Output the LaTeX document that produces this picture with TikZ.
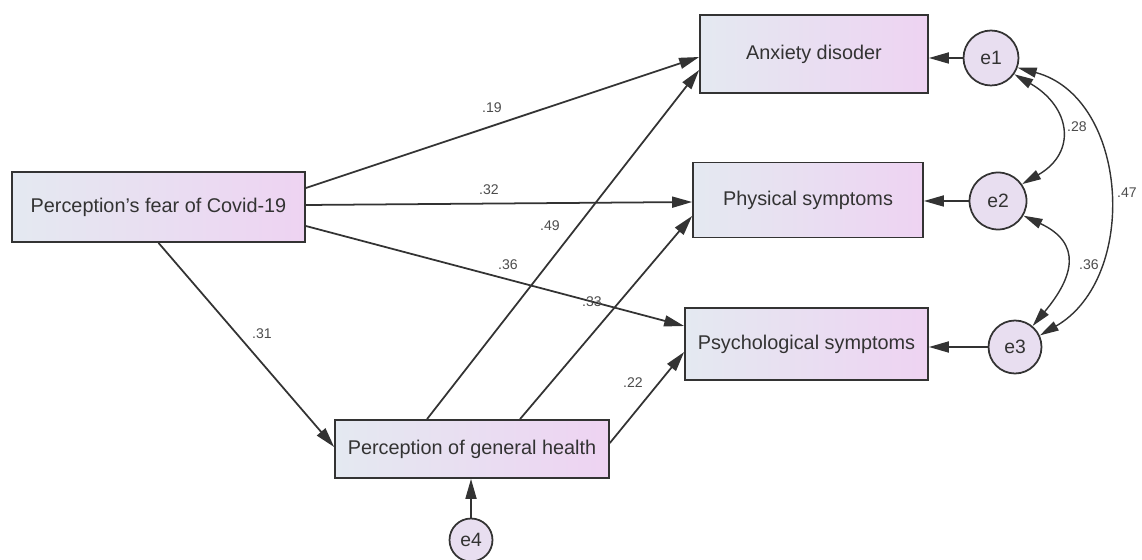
\documentclass[tikz,border=0pt]{standalone}
\usepackage{fontspec}
\setmainfont{Liberation Sans}
\usepackage{tikz}
\usetikzlibrary{arrows.meta}

\definecolor{boxleft}{HTML}{E4E9F1}
\definecolor{boxright}{HTML}{EED3F2}
\definecolor{errfill}{HTML}{E8DEF0}
\definecolor{linegray}{HTML}{333333}

\begin{document}
\begin{tikzpicture}[x = 0.02cm, y = -0.02cm, line width = 1pt,
                    obs/.style = {rectangle, draw = linegray, left color = boxleft, right color = boxright,
                                  font = \fontsize{11.3}{13}\selectfont, text = black!80},
                    err/.style = {circle, draw = linegray, fill = errfill, inner sep = 0pt,
                                  font = \fontsize{11}{13}\selectfont, text = black!80},
                    reg/.style = {draw = linegray, -{Triangle[length = 0.40cm, width = 0.22cm]}},
                    cov/.style = {draw = linegray, line width = 0.8pt,
                                  {Triangle[length = 0.38cm, width = 0.2cm]}-{Triangle[length = 0.38cm, width = 0.2cm]}},
                    coef/.style = {font = \fontsize{8}{9}\selectfont, text = black!70, inner sep = 1pt}]
      \useasboundingbox (0, 0) rectangle (1142, 560);
      % observed variables
      \node [obs, minimum width = 5.86cm, minimum height = 1.40cm] (fear) at (158.5, 207){Perception's fear of Covid-19};
      \node [obs, minimum width = 5.48cm, minimum height = 1.16cm] (health) at (472, 449){Perception of general health};
      \node [obs, minimum width = 4.56cm, minimum height = 1.56cm] (anx) at (814, 54){Anxiety disoder};
      \node [obs, minimum width = 4.60cm, minimum height = 1.50cm] (phys) at (808, 200){Physical symptoms};
      \node [obs, minimum width = 4.86cm, minimum height = 1.44cm] (psych) at (806.5, 344){Psychological symptoms};
      % error terms
      \node [err, minimum size = 1.10cm] (e1) at (991, 58){e1};
      \node [err, minimum size = 1.14cm] (e2) at (998, 201){e2};
      \node [err, minimum size = 1.06cm] (e3) at (1015, 347){e3};
      \node [err, minimum size = 0.86cm] (e4) at (471, 540){e4};
      % paths
      \draw [reg] ([yshift = 0.38cm]fear.east) -- ([yshift = -0.06cm]anx.west);
      \draw [reg] ([yshift = 0.04cm]fear.east) -- ([yshift = -0.04cm]phys.west);
      \draw [reg] ([yshift = -0.38cm]fear.east) -- ([yshift = 0.36cm]psych.west);
      \draw [reg] (fear.south) -- ([yshift = 0.04cm]health.west);
      \draw [reg] ([xshift = -0.90cm]health.north) -- ([yshift = -0.32cm]anx.west);
      \draw [reg] ([xshift = 0.96cm]health.north) -- ([yshift = -0.32cm]phys.west);
      \draw [reg] ([yshift = 0.12cm]health.east) -- ([yshift = -0.16cm]psych.west);
      \draw [reg] (e1) -- (anx.east |- e1);
      \draw [reg] (e2) -- (phys.east |- e2);
      \draw [reg] (e3) -- (psych.east |- e3);
      \draw [reg] (e4) -- (health.south -| e4);
      % covariances
      \draw [cov] (e1.-35) to [out = -30, in = 30, looseness = 1.5] (e2.35);
      \draw [cov] (e2.-30) to [out = -25, in = 50, looseness = 1.5] (e3.50);
      \draw [cov] (e1.-20) to [out = -15, in = 30, looseness = 1.1] (e3.25);
      % coefficients
      \node [coef] (c1) at (492, 108){.19};
      \node [coef] (c2) at (489, 190){.32};
      \node [coef] (c3) at (550, 226){.49};
      \node [coef] (c4) at (508, 265){.36};
      \node [coef] (c5) at (592, 302){.33};
      \node [coef] (c6) at (262, 334){.31};
      \node [coef] (c7) at (633, 383){.22};
      \node [coef] (c8) at (1077, 127){.28};
      \node [coef] (c9) at (1127, 193){.47};
      \node [coef] (c10) at (1089, 265){.36};
    \end{tikzpicture}
\end{document}
